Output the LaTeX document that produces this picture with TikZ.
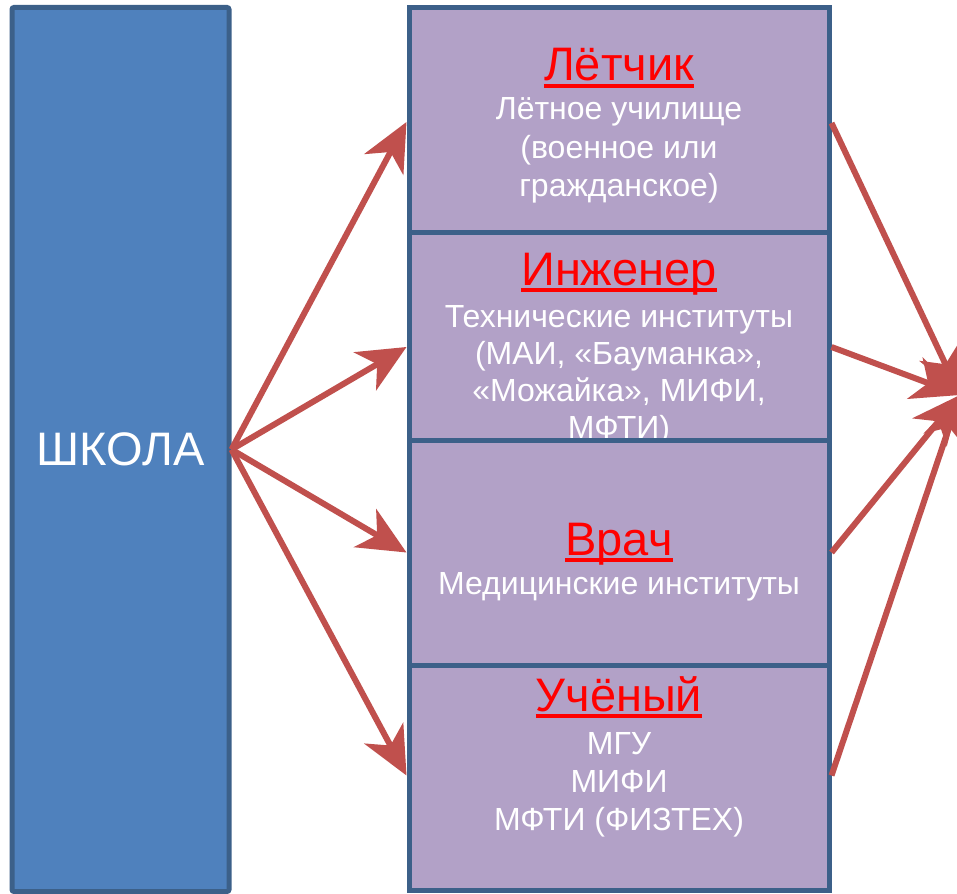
\documentclass[tikz,border=0pt]{standalone}
\usepackage{fontspec}
\setmainfont{Liberation Sans}
\usetikzlibrary{arrows.meta}
\definecolor{schoolblue}{HTML}{4F81BD}
\definecolor{edgeblue}{HTML}{3C6089}
\definecolor{boxpurple}{HTML}{B2A1C7}
\definecolor{arrowred}{HTML}{C0504D}
\begin{document}
\begin{tikzpicture}[x=1pt,y=-1pt,
  schoolbox/.style={draw=edgeblue,line width=5pt,fill=schoolblue,rounded corners=2pt,
    minimum width=217pt,minimum height=884pt,inner sep=0pt,text=white,
    font=\fontsize{47}{50}\selectfont},
  unibox/.style={draw=edgeblue,line width=5pt,fill=boxpurple,minimum width=420pt,inner sep=0pt},
  ttl/.style={text=red,font=\fontsize{47}{50}\selectfont,inner sep=0pt,anchor=base},
  sub/.style={text=white,font=\fontsize{32}{37}\selectfont,inner sep=0pt,anchor=base},
  uline/.style={draw=red,line width=4pt},
  link/.style={draw=arrowred,line width=6pt,-{Stealth[length=48pt,width=44pt,inset=14pt]}}
]
\clip (0,0) rectangle (957,893);
\fill[white] (0,0) rectangle (957,893);

\node[schoolbox] (school) at (120.5,449.5) {ШКОЛА};

% box 1
\node[unibox,minimum height=224pt] (b1) at (619,120) {};
\node[ttl] (t1) at (619,81) {Лётчик};
\draw[uline] ([yshift=-5pt]t1.base west) -- ([yshift=-5pt]t1.base east);
\node[sub] (l11) at (619,120) {Лётное училище};
\node[sub] (l12) at (619,159) {(военное или};
\node[sub] (l13) at (619,197) {гражданское)};

% box 2
\node[unibox,minimum height=208pt] (b2) at (619,336) {};
\node[ttl] (t2) at (619,285) {Инженер};
\draw[uline] ([yshift=-5pt]t2.base west) -- ([yshift=-5pt]t2.base east);
\node[sub] (l21) at (619,327) {Технические институты};
\node[sub] (l22) at (619,364) {(МАИ, «Бауманка»,};
\node[sub] (l23) at (619,401) {«Можайка», МИФИ,};
\node[sub] (l24) at (619,438) {МФТИ)};

% box 3
\node[unibox,minimum height=225pt] (b3) at (619,552.5) {};
\node[ttl] (t3) at (619,555) {Врач};
\draw[uline] ([yshift=-5pt]t3.base west) -- ([yshift=-5pt]t3.base east);
\node[sub] (l31) at (619,594) {Медицинские институты};

% box 4
\node[unibox,minimum height=225pt] (b4) at (619,777.5) {};
\node[ttl] (t4) at (619,711) {Учёный};
\draw[uline] ([yshift=-5pt]t4.base west) -- ([yshift=-5pt]t4.base east);
\node[sub] (l41) at (619,754) {МГУ};
\node[sub] (l42) at (619,792) {МИФИ};
\node[sub] (l43) at (619,830) {МФТИ (ФИЗТЕХ)};

\coordinate (goal) at (960,395);

% arrows from school
\draw[link] (school.east) -- ([yshift=-2pt]b1.west);
\draw[link] (school.east) -- ([yshift=-11pt]b2.west);
\draw[link] (school.east) -- (b3.west);
\draw[link] (school.east) -- ([yshift=2pt]b4.west);

% arrows to the right
\draw[link] ([yshift=-3pt]b1.east) -- (goal);
\draw[link] ([yshift=-11pt]b2.east) -- (goal);
\draw[link] (b3.east) -- (goal);
\draw[link] ([yshift=2pt]b4.east) -- (goal);
\end{tikzpicture}
\end{document}
